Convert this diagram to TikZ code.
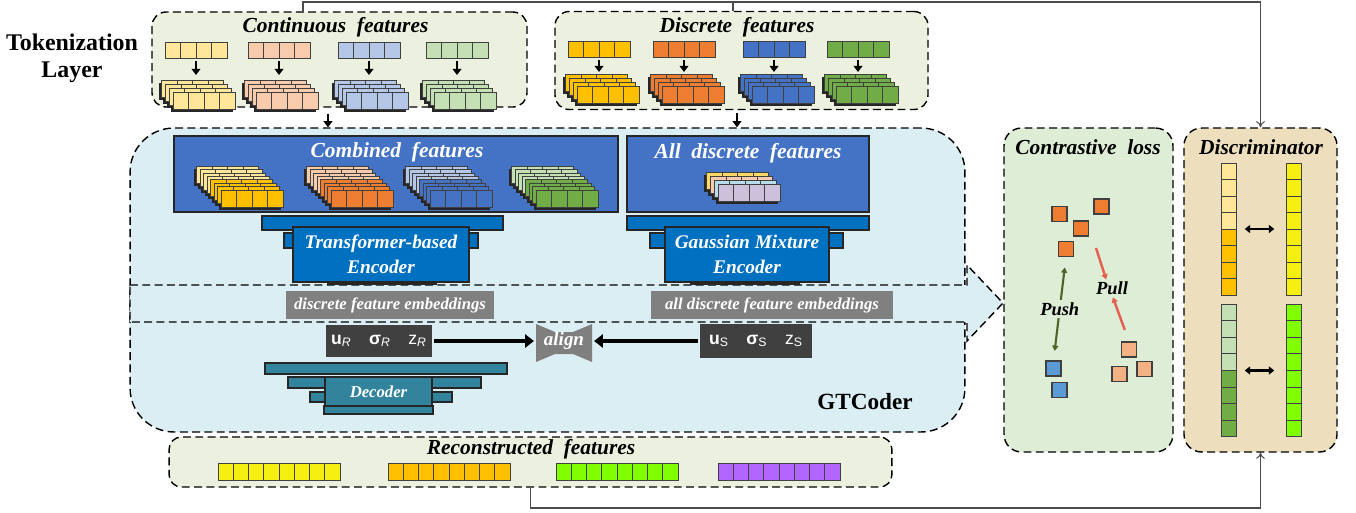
\documentclass[tikz,border=0pt]{standalone}
\usepackage{fontspec}
\setmainfont{Liberation Serif}
\newfontfamily\sansf{Liberation Sans}
\usetikzlibrary{arrows.meta}
\usetikzlibrary{positioning}

\definecolor{clY}{HTML}{FFE699}
\definecolor{clO}{HTML}{F8CBAD}
\definecolor{clB}{HTML}{B4C7E7}
\definecolor{clG}{HTML}{C5E0B4}
\definecolor{cdY}{HTML}{FFC000}
\definecolor{cdO}{HTML}{ED7D31}
\definecolor{cdB}{HTML}{4472C4}
\definecolor{cdG}{HTML}{70AD47}
\definecolor{cAy}{HTML}{FFD966}
\definecolor{cAp}{HTML}{F8CBAD}
\definecolor{cAt}{HTML}{B7DEE8}
\definecolor{cAl}{HTML}{CCC0DA}
\definecolor{tokfill}{HTML}{EBF1DE}
\definecolor{gtfill}{HTML}{DBEEF3}
\definecolor{combfill}{HTML}{4472C4}
\definecolor{encfill}{HTML}{0070C0}
\definecolor{decfill}{HTML}{31849B}
\definecolor{embfill}{HTML}{808080}
\definecolor{uzfill}{HTML}{404040}
\definecolor{alfill}{HTML}{7F7F7F}
\definecolor{ctfill}{HTML}{DEEDD6}
\definecolor{dcfill}{HTML}{EDDEBE}
\definecolor{ryel}{HTML}{F5F00F}
\definecolor{rgrn}{HTML}{80FF00}
\definecolor{rpur}{HTML}{B266FF}
\definecolor{sqO}{HTML}{ED7D31}
\definecolor{sqB}{HTML}{5B9BD5}
\definecolor{sqP}{HTML}{F4B183}
\definecolor{pushcol}{HTML}{4F6228}
\definecolor{pullcol}{HTML}{E4614F}

\newcommand{\featrow}[6]{%
    \foreach \k in {1,...,#3}
        \filldraw[cellline, fill=#6] ({#1+(\k-1)*#4},{#2}) rectangle ++(#4,#5);
}
\newcommand{\featstack}[5]{%
    \foreach \jj/\cc in {#3}
        \fill[black!85] ({#1-\jj*#4-2.5},{#2-\jj*#5+2.5}) rectangle ++(62,17);
    \foreach \jj/\cc in {#3}
        {\featrow{#1-\jj*#4}{#2-\jj*#5}{4}{15.5}{17}{\cc}}
}

\begin{document}
\begin{tikzpicture}[
    x=0.02cm, y=-0.02cm,
    every node/.style={inner sep=0pt},
    dashbox/.style={draw=black, line width=0.8pt, dash pattern=on 4.5pt off 2.5pt},
    cellline/.style={draw=black!75, line width=0.5pt},
    ttl/.style={font=\fontsize{12.2}{14}\selectfont\bfseries\itshape},
    wttl/.style={ttl, text=white},
    block/.style={draw=black!85, line width=0.6pt},
    enctext/.style={font=\fontsize{11}{14}\selectfont\bfseries\itshape, text=white, align=center},
    emb/.style={fill=embfill, text=white, font=\fontsize{9.5}{11}\selectfont\bfseries\itshape},
    uz/.style={fill=uzfill, text=white, font=\sansf\fontsize{10}{12}\selectfont\bfseries},
    pp/.style={font=\fontsize{10.5}{12}\selectfont\bfseries\itshape},
    dot/.style={draw=black!75, line width=0.6pt, minimum size=0.3cm},
    colnode/.style={minimum width=0.31cm, minimum height=2.64cm},
    link/.style={draw=black!70, line width=0.6pt},
    linkarrow/.style={link, -{To[length=3.5pt,width=5pt]}},
    tokarrow/.style={line width=1.2pt, -{Triangle[length=3.5pt,width=5pt]}},
    bigarrow/.style={line width=2.3pt, -{Triangle[length=5pt,width=7.5pt]}},
    duoarrow/.style={line width=1.4pt, {Triangle[length=3pt,width=4.5pt]}-{Triangle[length=3pt,width=4.5pt]}},
    pusharrow/.style={draw=pushcol, line width=1.2pt, {Triangle[length=3pt,width=3.5pt]}-{Triangle[length=3pt,width=3.5pt]}},
    pullarrow/.style={draw=pullcol, line width=1.4pt, -{Triangle[length=3pt,width=3.5pt]}},
    ]
    \useasboundingbox (0,0) rectangle (1356,512);

    % tokenization layer
    \node (tok) [font=\fontsize{13.6}{15.5}\selectfont\bfseries, align=center] at (72,58) {Tokenization\\Layer};
    \node (cont) [dashbox, fill=tokfill, rounded corners=8pt, minimum width=7.5cm, minimum height=1.9cm] at (339.5,59.5) {};
    \node (dfeat) [dashbox, fill=tokfill, rounded corners=8pt, minimum width=7.46cm, minimum height=1.96cm] at (741.5,60.5) {};
    \node (contT) [ttl] at (335.5,27) {Continuous\ \ features};
    \node (dfeatT) [ttl] at (737,27) {Discrete\ \ features};

    \foreach \x/\c in {165/clY, 248/clO, 338/clB, 426/clG} {
        \featrow{\x}{42}{4}{15.5}{16}{\c}
        \coordinate (ta\x) at (\x+31,61);
        \coordinate (tb\x) at (\x+31,75);
        \draw[tokarrow] (ta\x) -- (tb\x);
        \featstack{\x+8}{92}{3/\c,2/\c,1/\c,0/\c}{3.7}{4}
    }
    \foreach \x/\c in {568/cdY, 653/cdO, 743/cdB, 827/cdG} {
        \featrow{\x}{41}{4}{15.5}{16}{\c}
        \coordinate (ta\x) at (\x+31,60);
        \coordinate (tb\x) at (\x+31,72);
        \draw[tokarrow] (ta\x) -- (tb\x);
        \featstack{\x+9}{86}{3/\c,2/\c,1/\c,0/\c}{3.7}{3.7}
    }

    % GTCoder
    \node (gtc) [dashbox, fill=gtfill, rounded corners=25pt, minimum width=16.7cm, minimum height=6.08cm] at (547.5,280) {};
    \filldraw[dashbox, fill=gtfill] (130,285) -- (967,285) -- (967,265) -- (1003,303) -- (967,341) -- (967,322) -- (130,322) -- cycle;

    \node (comb) [block, line width=1pt, fill=combfill, minimum width=8.88cm, minimum height=1.52cm] at (396,174) {};
    \node (alld) [block, line width=1pt, fill=combfill, minimum width=4.84cm, minimum height=1.52cm] at (748,174) {};
    \node (combT) [wttl] at (397,152) {Combined\ \ features};
    \node (alldT) [wttl] at (748,153) {All\ \ discrete\ \ features};
    \foreach \x/\a/\b in {221/clY/cdY, 331/clO/cdO, 430/clB/cdB, 536/clG/cdG}
        {\featstack{\x}{190}{7/\a,6/\a,5/\a,4/\a,3/\b,2/\b,1/\b,0/\b}{3.5}{3.4}}
    \featstack{718}{184}{3/cAy,2/cAp,1/cAt,0/cAl}{3.7}{3.7}

    \filldraw[block, fill=encfill] (262,216) rectangle (503,230);
    \filldraw[block, fill=encfill] (284,233) rectangle (478,248);
    \fill[black!85] (327,279) rectangle (437,285);
    \node (tenc) [block, fill=encfill, enctext, minimum width=3.52cm, minimum height=1.1cm] at (381,254.5) {Transformer-based\\Encoder};
    \filldraw[block, fill=encfill] (627,216) rectangle (869,230);
    \filldraw[block, fill=encfill] (650,233) rectangle (843,248);
    \fill[black!85] (690,279) rectangle (800,285);
    \node (genc) [block, fill=encfill, enctext, minimum width=3.28cm, minimum height=1.1cm] at (747,254.5) {Gaussian Mixture\\Encoder};

    \node (demb) [emb, minimum width=4.16cm, minimum height=0.56cm] at (390,305) {discrete feature embeddings};
    \node (aemb) [emb, minimum width=4.84cm, minimum height=0.56cm] at (772,305) {all discrete feature embeddings};

    \node (ur) [uz, minimum width=2.12cm, minimum height=0.64cm] at (379,341)
        {u\textsubscript{\mdseries\itshape R}\quad σ\textsubscript{\mdseries\itshape R}\quad {\mdseries z}\textsubscript{\mdseries\itshape R}};
    \node (us) [uz, minimum width=2.24cm, minimum height=0.68cm] at (756,341)
        {u\textsubscript{\mdseries S}\quad σ\textsubscript{\mdseries S}\quad {\mdseries z}\textsubscript{\mdseries S}};
    \fill[alfill] (536,324) -- (555,332) -- (573,332) -- (592,324) -- (592,362) -- (573,354) -- (555,354) -- (536,362) -- cycle;
    \node (al) [minimum width=1.12cm, minimum height=0.76cm, font=\fontsize{10.8}{12}\selectfont\bfseries\itshape, text=white] at (564,341) {align};
    \draw[bigarrow, shorten <=1pt, shorten >=1pt] (ur.east) -- (ur.east-|al.west);
    \draw[bigarrow, shorten <=1pt, shorten >=1pt] (us.west) -- (us.west-|al.east);

    \filldraw[block, fill=decfill] (265,363) rectangle (507,374);
    \filldraw[block, fill=decfill] (288,377) rectangle (481,388);
    \filldraw[block, fill=decfill] (310,392) rectangle (452,402);
    \node (dec) [block, fill=decfill, minimum width=2.14cm, minimum height=0.58cm, font=\fontsize{9.5}{11}\selectfont\bfseries\itshape, text=white] at (378.5,391.5) {Decoder};
    \filldraw[block, fill=decfill] (324,406) rectangle (433,414);
    \node (gtl) [font=\fontsize{13.2}{15}\selectfont\bfseries] at (865,402) {GTCoder};

    \coordinate (ca) at (328,0);
    \coordinate (da) at (737,0);
    \draw[tokarrow, shorten <=3.4pt] (ca|-cont.south) -- (ca|-gtc.north);
    \draw[tokarrow, shorten <=1.5pt] (da|-dfeat.south) -- (da|-gtc.north);

    % reconstructed features
    \node (recon) [dashbox, fill=tokfill, rounded corners=7pt, minimum width=14.46cm, minimum height=1.0cm] at (530.5,462) {};
    \node (reconT) [ttl] at (531,449) {Reconstructed\ \ features};
    \featrow{218}{463}{8}{15.25}{17}{ryel}
    \featrow{388}{463}{8}{15.25}{17}{cdY}
    \featrow{556}{463}{8}{15.25}{17}{rgrn}
    \featrow{718}{463}{8}{15.25}{17}{rpur}

    % contrastive loss
    \node (ctr) [dashbox, fill=ctfill, rounded corners=10pt, minimum width=3.38cm, minimum height=6.48cm] at (1088.5,290) {};
    \node (ctrT) [ttl] at (1088,147) {Contrastive\ \ loss};
    \foreach \n/\x/\y in {o1/1059.5/214, o2/1101.5/206.5, o3/1081/228.5, o4/1066/249}
        \node (\n) [dot, fill=sqO] at (\x,\y) {};
    \foreach \n/\x/\y in {b1/1053.5/368.5, b2/1059.5/390}
        \node (\n) [dot, fill=sqB] at (\x,\y) {};
    \foreach \n/\x/\y in {p1/1129/349.5, p2/1119.5/374, p3/1144.5/369}
        \node (\n) [dot, fill=sqP] at (\x,\y) {};
    \draw[pusharrow, shorten <=6pt, shorten >=5.5pt] (o4.south) -- node (push) [pp, fill=ctfill, inner sep=1.5pt] {Push} (b1.north);
    \node (pull) [pp] at (1112,288) {Pull};
    \coordinate (pa) at (1096,248);
    \draw[pullarrow, shorten >=1pt] (pa) -- ([xshift=-3pt]pull.north);
    \draw[pullarrow, shorten <=7pt, shorten >=1.5pt] (p1.north) -- (pull.south);

    % discriminator
    \node (discr) [dashbox, fill=dcfill, rounded corners=10pt, minimum width=3.06cm, minimum height=6.48cm] at (1260.5,290) {};
    \node (discrT) [ttl] at (1261,147) {Discriminator};
    \foreach \k/\c in {0/clY,1/clY,2/clY,3/clY,4/cdY,5/cdY,6/cdY,7/cdY} {
        \filldraw[cellline, fill=\c] (1221,{163+\k*16.5}) rectangle ++(15.5,16.5);
        \filldraw[cellline, fill=ryel] (1286,{163+\k*16.5}) rectangle ++(15.5,16.5);
    }
    \foreach \k/\c in {0/clG,1/clG,2/clG,3/clG,4/cdG,5/cdG,6/cdG,7/cdG} {
        \filldraw[cellline, fill=\c] (1221,{304+\k*16.6}) rectangle ++(15.5,16.6);
        \filldraw[cellline, fill=rgrn] (1286,{304+\k*16.6}) rectangle ++(15.5,16.6);
    }
    \node (dl1) [colnode] at (1228.75,229) {};
    \node (dr1) [colnode] at (1293.75,229) {};
    \node (dl2) [colnode] at (1228.75,370.5) {};
    \node (dr2) [colnode] at (1293.75,370.5) {};
    \draw[duoarrow, shorten <=4.5pt, shorten >=6.5pt] (dl1) -- (dr1);
    \draw[duoarrow, shorten <=4.5pt, shorten >=6.5pt] (dl2) -- (dr2);

    % links to the discriminator
    \coordinate (tl) at (303,2);
    \coordinate (tm) at (733,2);
    \coordinate (bl) at (530.5,508);
    \draw[linkarrow] (tl|-cont.north) -- (tl) -| (discr.north);
    \draw[link] (tm|-dfeat.north) -- (tm);
    \draw[linkarrow] (recon.south) -- (bl) -| (discr.south);
\end{tikzpicture}
\end{document}
